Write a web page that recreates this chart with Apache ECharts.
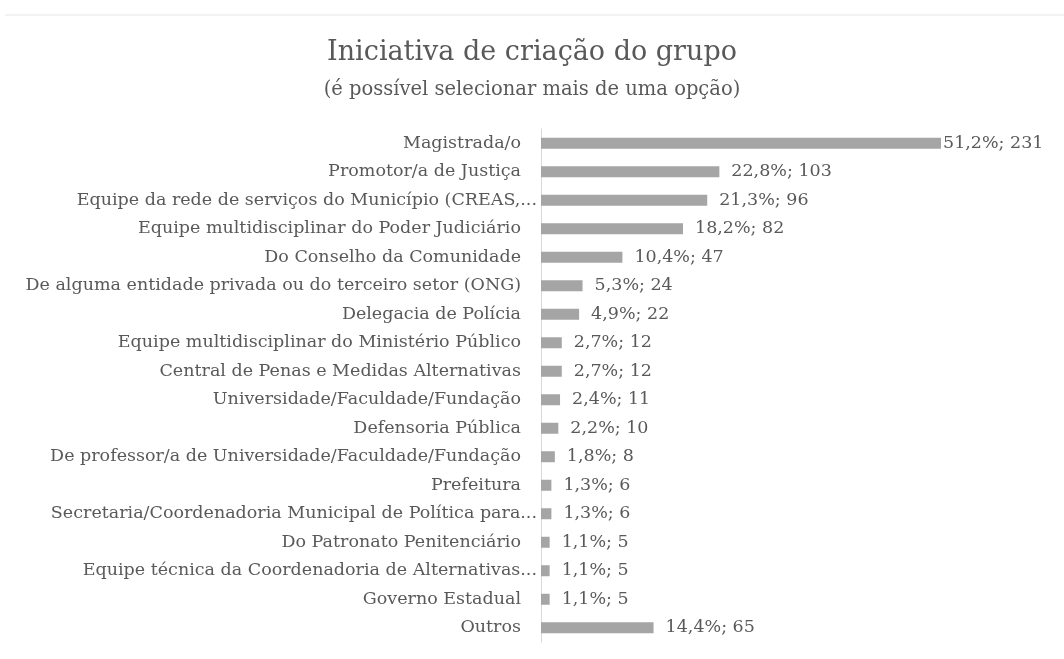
<!DOCTYPE html>
<html><head><meta charset="utf-8">
<script src="https://cdn.jsdelivr.net/npm/echarts@6/dist/echarts.min.js"></script>
<style>html,body{margin:0;padding:0;background:#fff}#c{width:1064px;height:659px}</style>
</head><body><div id="c"></div>
<script>
const titleText = 'Iniciativa de criação do grupo';
const subtitleText = '(é possível selecionar mais de uma opção)';
const categories = [
  'Magistrada/o',
  'Promotor/a de Justiça',
  'Equipe da rede de serviços do Município (CREAS,...',
  'Equipe multidisciplinar do Poder Judiciário',
  'Do Conselho da Comunidade',
  'De alguma entidade privada ou do terceiro setor (ONG)',
  'Delegacia de Polícia',
  'Equipe multidisciplinar do Ministério Público',
  'Central de Penas e Medidas Alternativas',
  'Universidade/Faculdade/Fundação',
  'Defensoria Pública',
  'De professor/a de Universidade/Faculdade/Fundação',
  'Prefeitura',
  'Secretaria/Coordenadoria Municipal de Política para...',
  'Do Patronato Penitenciário',
  'Equipe técnica da Coordenadoria de Alternativas...',
  'Governo Estadual',
  'Outros'
];
const counts = [231, 103, 96, 82, 47, 24, 22, 12, 12, 11, 10, 8, 6, 6, 5, 5, 5, 65];
const percents = ['51,2', '22,8', '21,3', '18,2', '10,4', '5,3', '4,9', '2,7', '2,7', '2,4', '2,2', '1,8', '1,3', '1,3', '1,1', '1,1', '1,1', '14,4'];

const FONT = 'DejaVu Serif';
const TXT = '#595959';
const maxCount = Math.max(...counts);
const seriesData = counts.map((v, i) => ({
  value: v,
  label: { distance: v === maxCount ? 2 : 12 }
}));

const chart = echarts.init(document.getElementById('c'), null, { renderer: 'canvas' });
chart.setOption({
  backgroundColor: '#ffffff',
  animation: false,
  title: {
    text: titleText,
    subtext: subtitleText,
    left: 'center',
    top: 34,
    itemGap: 14,
    textStyle: { fontFamily: FONT, fontSize: 27, fontWeight: 'normal', color: TXT },
    subtextStyle: { fontFamily: FONT, fontSize: 19.5, color: TXT }
  },
  graphic: [{
    type: 'line',
    shape: { x1: 5, y1: 15, x2: 1064, y2: 15 },
    style: { stroke: '#e6e6e6', lineWidth: 1 }
  }],
  grid: { left: 541, right: 123, top: 129, bottom: 17, containLabel: false },
  xAxis: {
    type: 'value', min: 0, max: maxCount,
    show: false
  },
  yAxis: {
    type: 'category',
    data: categories,
    inverse: true,
    axisLine: { show: true, lineStyle: { color: '#d9d9d9', width: 1 } },
    axisTick: { show: false },
    axisLabel: {
      fontFamily: FONT, fontSize: 17.5, color: TXT, margin: 4,
      formatter: v => v.endsWith('...') ? '{a|' + v + '}' : '{a|' + v + '}{p| }',
      rich: {
        a: { fontFamily: FONT, fontSize: 17.5, color: TXT },
        p: { fontFamily: FONT, fontSize: 17.5, width: 16 }
      }
    }
  },
  series: [{
    type: 'bar',
    data: seriesData,
    barWidth: 11,
    itemStyle: { color: '#a5a5a5' },
    label: {
      show: true,
      position: 'right',
      fontFamily: FONT,
      fontSize: 17.5,
      color: TXT,
      formatter: p => percents[p.dataIndex] + '%; ' + counts[p.dataIndex]
    }
  }]
});
</script></body></html>
